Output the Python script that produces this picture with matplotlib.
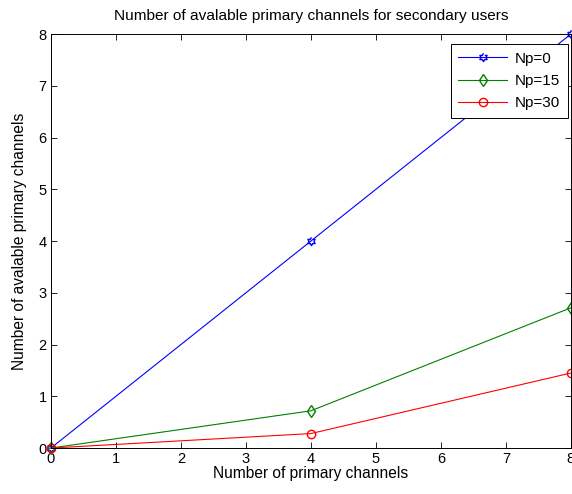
import numpy as np
import matplotlib.pyplot as plt

plt.rcParams['font.family'] = ['Liberation Sans', 'DejaVu Sans']

channels = [0, 4, 8]
np0 = [0, 4, 8]
np15 = [0, 0.72, 2.71]
np30 = [0, 0.28, 1.45]

# hexagram marker like matlab 'h'
ang = np.pi / 2 + np.arange(12) * np.pi / 6
rad = np.where(np.arange(12) % 2 == 0, 1.0, 0.58)
hexagram = list(zip(rad * np.cos(ang), rad * np.sin(ang)))

fig = plt.figure(figsize=(5.72, 4.94), dpi=100)
ax = fig.add_axes([0.089, 0.093, 0.909, 0.838])

ax.plot(channels, np0, color='b', linewidth=0.8, marker=hexagram, markersize=6,
        markerfacecolor='none', markeredgecolor='b', label='Np=0', clip_on=False)
ax.plot(channels, np15, color=(0, 0.5, 0), linewidth=0.8, marker='d', markersize=6.5,
        markerfacecolor='none', markeredgecolor=(0, 0.5, 0), label='Np=15', clip_on=False)
ax.plot(channels, np30, color='r', linewidth=0.8, marker='o', markersize=6,
        markerfacecolor='none', markeredgecolor='r', label='Np=30', clip_on=False)

ax.set_xlim(0, 8)
ax.set_ylim(0, 8)
ax.set_xticks(range(9))
ax.set_yticks(range(9))
ax.tick_params(direction='in', top=True, right=True, labelsize=10.5, length=4, width=0.6, pad=3)
for s in ax.spines.values():
    s.set_linewidth(0.7)
ax.set_xlabel('Number of primary channels', fontsize=11.2, labelpad=0)
ax.set_ylabel('Number of avalable primary channels', fontsize=11.2, labelpad=8)
ax.set_title('Number of avalable primary channels for secondary users', fontsize=11.1, pad=10)

leg = ax.legend(loc='upper right', bbox_to_anchor=(0.994, 0.976), borderaxespad=0,
                fontsize=11, fancybox=False, framealpha=1, edgecolor='k',
                handlelength=3.2, labelspacing=0.55, handletextpad=0.5, borderpad=0.5)
leg.get_frame().set_linewidth(0.7)

fig.savefig('out.png', dpi=100)
